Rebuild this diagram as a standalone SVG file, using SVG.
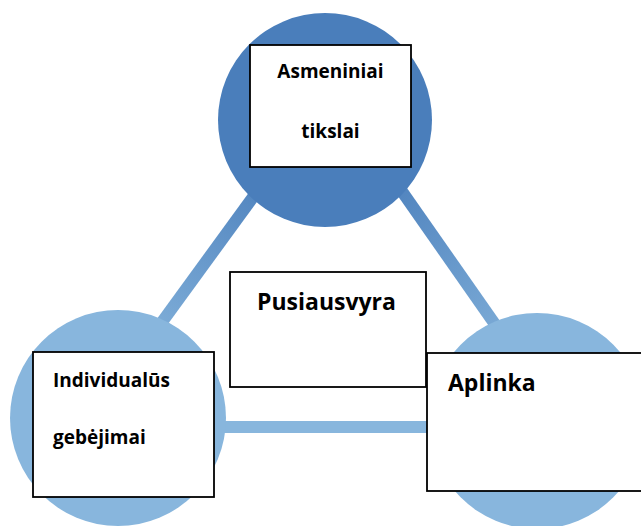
<svg xmlns="http://www.w3.org/2000/svg" width="641" height="526" viewBox="0 0 641 526">
  <style>
    .box { fill: #ffffff; stroke: #000000; stroke-width: 1.8; }
    .lbl { font-family: "Open Sans", "Liberation Sans", sans-serif; font-weight: bold; fill: #000000; }
    .s { font-size: 19px; }
    .l { font-size: 23px; }
  </style>
  <defs>
    <linearGradient id="gL" gradientUnits="userSpaceOnUse" x1="280" y1="160" x2="130" y2="366">
      <stop offset="0" stop-color="#4a7ebb"/>
      <stop offset="1" stop-color="#88b6dd"/>
    </linearGradient>
    <linearGradient id="gR" gradientUnits="userSpaceOnUse" x1="380" y1="160" x2="534" y2="380">
      <stop offset="0" stop-color="#4a7ebb"/>
      <stop offset="1" stop-color="#88b6dd"/>
    </linearGradient>
  </defs>
  <g id="connectors">
    <line x1="280" y1="160" x2="130" y2="366" stroke="url(#gL)" stroke-width="12"/>
    <line x1="380" y1="160" x2="534" y2="380" stroke="url(#gR)" stroke-width="12"/>
    <line x1="150" y1="427" x2="500" y2="427" stroke="#88b6dd" stroke-width="12"/>
  </g>
  <g id="circles">
    <circle cx="325" cy="120" r="107" fill="#4a7ebb"/>
    <circle cx="118" cy="418" r="108" fill="#88b6dd"/>
    <circle cx="537" cy="421" r="108" fill="#88b6dd"/>
  </g>
  <g id="node-asmeniniai">
    <rect class="box" x="250" y="45" width="161" height="122"/>
    <text class="lbl s" x="330.5" y="78" text-anchor="middle">Asmeniniai</text>
    <text class="lbl s" x="330.5" y="138" text-anchor="middle">tikslai</text>
  </g>
  <g id="node-pusiausvyra">
    <rect class="box" x="230" y="272" width="196" height="115"/>
    <text class="lbl l" x="257" y="310">Pusiausvyra</text>
  </g>
  <g id="node-individualus">
    <rect class="box" x="33" y="352" width="181" height="145"/>
    <text class="lbl s" x="53" y="387">Individualūs</text>
    <text class="lbl s" x="53" y="444">gebėjimai</text>
  </g>
  <g id="node-aplinka">
    <rect class="box" x="427" y="353" width="218" height="138"/>
    <text class="lbl l" x="448" y="391">Aplinka</text>
  </g>
</svg>
